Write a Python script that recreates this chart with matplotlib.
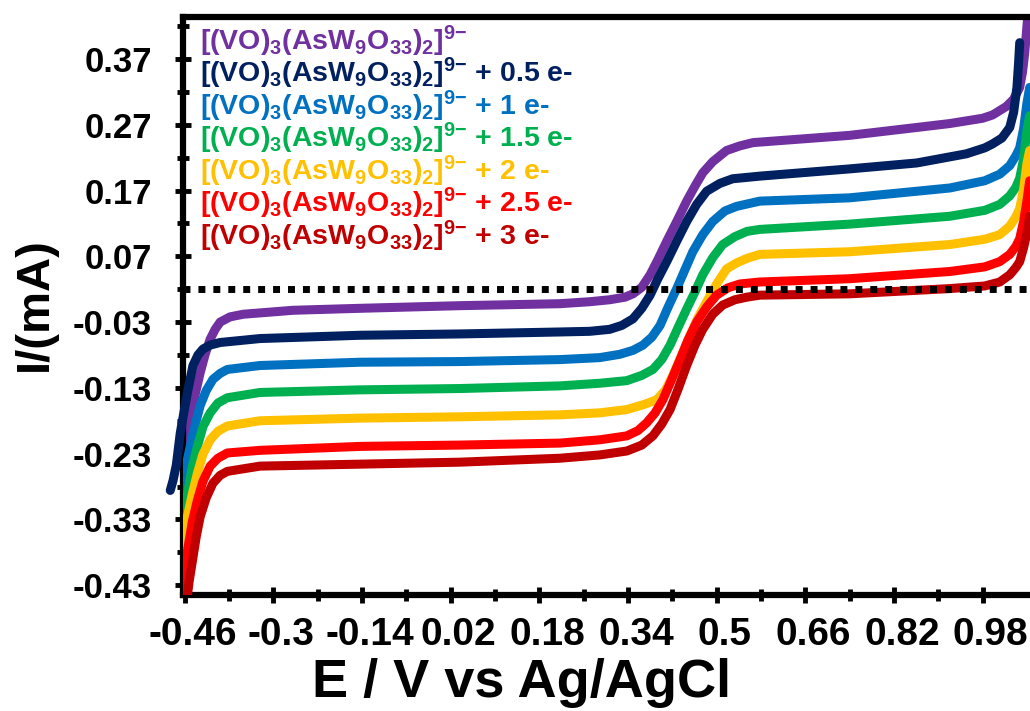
import matplotlib
matplotlib.use("Agg")
import matplotlib.pyplot as plt
from matplotlib import font_manager
from matplotlib.transforms import ScaledTranslation

# ---------------- data ----------------
E_purple = [-0.466, -0.457, -0.450, -0.441, -0.432, -0.423, -0.414, -0.405, -0.396, -0.378,
            -0.354, -0.264, -0.143, 0.037, 0.217, 0.271, 0.307, 0.335, 0.349, 0.365,
            0.380, 0.394, 0.410, 0.428, 0.446, 0.461, 0.475, 0.493, 0.518, 0.542,
            0.566, 0.740, 0.861, 0.921, 0.980, 0.998, 1.023, 1.036, 1.047, 1.052,
            1.056, 1.064]
I_purple = [-0.275, -0.214, -0.179, -0.140, -0.107, -0.079, -0.056, -0.041, -0.030, -0.022,
            -0.018, -0.012, -0.009, -0.005, -0.002, 0.001, 0.004, 0.008, 0.013, 0.023,
            0.042, 0.065, 0.093, 0.123, 0.154, 0.177, 0.197, 0.214, 0.231, 0.238,
            0.243, 0.254, 0.266, 0.272, 0.280, 0.285, 0.298, 0.309, 0.327, 0.350,
            0.379, 0.460]

E_navy = [-0.486, -0.481, -0.475, -0.468, -0.455, -0.445, -0.436, -0.427, -0.414, -0.396,
          -0.360, -0.324, -0.143, 0.037, 0.217, 0.271, 0.307, 0.329, 0.349, 0.365,
          0.380, 0.394, 0.410, 0.428, 0.446, 0.464, 0.482, 0.506, 0.529, 0.578,
          0.740, 0.861, 0.951, 0.984, 0.998, 1.015, 1.029, 1.036, 1.042, 1.045,
          1.047]
I_navy = [-0.286, -0.271, -0.247, -0.199, -0.137, -0.096, -0.080, -0.071, -0.065, -0.061,
          -0.058, -0.055, -0.050, -0.048, -0.045, -0.044, -0.041, -0.035, -0.025, -0.009,
          0.011, 0.036, 0.062, 0.093, 0.123, 0.149, 0.169, 0.181, 0.188, 0.192,
          0.203, 0.212, 0.226, 0.235, 0.241, 0.250, 0.266, 0.289, 0.327, 0.365,
          0.395]

E_blue = [-0.466, -0.463, -0.457, -0.450, -0.441, -0.432, -0.421, -0.409, -0.396, -0.383,
          -0.324, -0.143, 0.037, 0.217, 0.289, 0.325, 0.349, 0.367, 0.383, 0.398,
          0.412, 0.428, 0.443, 0.457, 0.475, 0.493, 0.515, 0.536, 0.578, 0.740,
          0.921, 0.984, 1.011, 1.029, 1.040, 1.047, 1.054, 1.060, 1.065]
I_blue = [-0.398, -0.280, -0.247, -0.219, -0.186, -0.157, -0.134, -0.117, -0.108, -0.102,
          -0.096, -0.091, -0.090, -0.087, -0.084, -0.079, -0.073, -0.065, -0.053, -0.035,
          -0.008, 0.021, 0.050, 0.077, 0.103, 0.123, 0.139, 0.146, 0.154, 0.159,
          0.174, 0.185, 0.195, 0.208, 0.223, 0.235, 0.264, 0.303, 0.327]

E_green = [-0.466, -0.465, -0.455, -0.446, -0.437, -0.427, -0.414, -0.400, -0.383, -0.324,
           -0.143, 0.037, 0.217, 0.289, 0.338, 0.365, 0.385, 0.401, 0.416, 0.430,
           0.446, 0.461, 0.475, 0.493, 0.511, 0.533, 0.555, 0.578, 0.740, 0.921,
           0.984, 1.011, 1.029, 1.040, 1.047, 1.054, 1.060, 1.065]
I_green = [-0.413, -0.352, -0.291, -0.249, -0.219, -0.189, -0.168, -0.153, -0.145, -0.137,
           -0.133, -0.131, -0.127, -0.123, -0.119, -0.111, -0.102, -0.087, -0.065, -0.039,
           -0.010, 0.016, 0.042, 0.068, 0.088, 0.100, 0.108, 0.111, 0.119, 0.131,
           0.140, 0.149, 0.162, 0.175, 0.189, 0.218, 0.261, 0.284]

E_yellow = [-0.466, -0.463, -0.455, -0.446, -0.437, -0.427, -0.414, -0.400, -0.383, -0.324,
            -0.143, 0.037, 0.217, 0.289, 0.338, 0.370, 0.392, 0.408, 0.421, 0.436,
            0.452, 0.466, 0.482, 0.500, 0.518, 0.536, 0.555, 0.578, 0.740, 0.921,
            0.984, 1.011, 1.029, 1.040, 1.047, 1.054, 1.060, 1.065]
I_yellow = [-0.428, -0.367, -0.326, -0.291, -0.260, -0.231, -0.209, -0.196, -0.188, -0.180,
            -0.176, -0.174, -0.171, -0.168, -0.163, -0.155, -0.148, -0.133, -0.111, -0.082,
            -0.050, -0.024, 0.001, 0.028, 0.051, 0.060, 0.067, 0.073, 0.077, 0.088,
            0.096, 0.103, 0.116, 0.130, 0.143, 0.172, 0.211, 0.231]

E_red = [-0.465, -0.455, -0.446, -0.437, -0.427, -0.414, -0.400, -0.383, -0.324, -0.143,
         0.037, 0.217, 0.289, 0.338, 0.358, 0.374, 0.389, 0.403, 0.418, 0.434,
         0.448, 0.464, 0.482, 0.500, 0.520, 0.542, 0.578, 0.740, 0.921, 0.984,
         1.011, 1.029, 1.040, 1.047, 1.054, 1.060, 1.065]
I_red = [-0.444, -0.378, -0.333, -0.301, -0.272, -0.249, -0.237, -0.229, -0.225, -0.219,
         -0.217, -0.214, -0.209, -0.203, -0.195, -0.183, -0.168, -0.148, -0.119, -0.087,
         -0.058, -0.030, -0.007, 0.011, 0.022, 0.028, 0.031, 0.036, 0.047, 0.054,
         0.062, 0.073, 0.085, 0.097, 0.123, 0.154, 0.185]

E_darkred = [-0.457, -0.452, -0.446, -0.439, -0.432, -0.421, -0.409, -0.396, -0.383, -0.324,
             -0.143, 0.037, 0.217, 0.289, 0.338, 0.365, 0.385, 0.401, 0.416, 0.430,
             0.446, 0.461, 0.475, 0.493, 0.511, 0.533, 0.555, 0.578, 0.740, 0.921,
             0.984, 1.011, 1.029, 1.040, 1.047, 1.054, 1.062, 1.065]
I_darkred = [-0.459, -0.425, -0.393, -0.356, -0.326, -0.297, -0.275, -0.263, -0.257, -0.249,
             -0.246, -0.243, -0.237, -0.232, -0.226, -0.217, -0.203, -0.185, -0.163, -0.133,
             -0.096, -0.065, -0.041, -0.018, -0.004, 0.004, 0.008, 0.011, 0.013, 0.021,
             0.025, 0.031, 0.042, 0.053, 0.062, 0.083, 0.113, 0.131]

series_E = [E_purple, E_navy, E_blue, E_green, E_yellow, E_red, E_darkred]
series_I = [I_purple, I_navy, I_blue, I_green, I_yellow, I_red, I_darkred]
series_colors = ["#7030A0", "#002060", "#0070C0", "#00B050", "#FFC000", "#FF0000", "#C00000"]

BASE = r"[(VO)$_3$(AsW$_9$O$_{33}$)$_2$]$^{9{-}}$"
series_suffix = ["", " + 0.5 e-", " + 1 e-", " + 1.5 e-", " + 2 e-", " + 2.5 e-", " + 3 e-"]

REF_LINE = 0.02

x_ticks = [-0.46, -0.30, -0.14, 0.02, 0.18, 0.34, 0.50, 0.66, 0.82, 0.98]
x_tick_labels = ["-0.46", "-0.3", "-0.14", "0.02", "0.18", "0.34", "0.5", "0.66", "0.82", "0.98"]
x_minor = [-0.38, -0.22, -0.06, 0.10, 0.26, 0.42, 0.58, 0.74, 0.90]
y_ticks = [-0.43, -0.33, -0.23, -0.13, -0.03, 0.07, 0.17, 0.27, 0.37]
y_tick_labels = ["-0.43", "-0.33", "-0.23", "-0.13", "-0.03", "0.07", "0.17", "0.27", "0.37"]
y_minor = [-0.38, -0.28, -0.18, -0.08, 0.02, 0.12, 0.22, 0.32, 0.42]

X_LABEL = "E / V vs Ag/AgCl"
Y_LABEL = "I/(mA)"

# ---------------- fonts ----------------
names = {f.name for f in font_manager.fontManager.ttflist}
NARROW = "Liberation Sans Narrow" if "Liberation Sans Narrow" in names else "Liberation Sans"
SANS = "Liberation Sans"
plt.rcParams.update({
    "font.family": [SANS, "DejaVu Sans"],
    "font.weight": "bold",
    "mathtext.fontset": "custom",
    "mathtext.rm": "Liberation Sans:bold",
    "mathtext.it": "Liberation Sans:bold",
    "mathtext.bf": "Liberation Sans:bold",
    "mathtext.sf": "Liberation Sans:bold",
    "mathtext.default": "bf",
})

W, H = 1030, 711
fig = plt.figure(figsize=(W / 100, H / 100), dpi=100)
ax = fig.add_axes([183 / W, 1 - 595 / H, (1038 - 183) / W, (595 - 17) / H])
ax.set_xlim(-0.463, 1.08)
ax.set_ylim(-0.445, 0.434)

for i, (E, I, c) in enumerate(zip(series_E, series_I, series_colors)):
    ax.plot(E, I, color=c, lw=6.5, solid_capstyle="round", solid_joinstyle="round",
            zorder=2 + i, clip_on=(i != 1))

ax.axhline(REF_LINE, color="black", lw=5, dashes=(1, 1.15), dash_capstyle="butt", zorder=20)

for s in ["left", "bottom", "top"]:
    ax.spines[s].set_linewidth(4.5)
ax.spines["right"].set_visible(False)

ax.set_xticks(x_ticks)
ax.set_xticklabels(x_tick_labels, fontfamily=NARROW, fontweight="bold", fontsize=28)
ax.set_xticks(x_minor, minor=True)
ax.set_yticks(y_ticks)
ax.set_yticklabels(y_tick_labels, fontfamily=SANS, fontweight="bold", fontsize=25)
ax.set_yticks(y_minor, minor=True)
ax.tick_params(which="major", direction="inout", length=11, width=3.5, top=False, right=False)
ax.tick_params(which="minor", direction="inout", length=8, width=3.5, top=False, right=False)
ax.tick_params(axis="x", which="major", pad=10)
ax.tick_params(axis="y", which="major", pad=17)
for lbl in ax.get_xticklabels():
    lbl.set_transform(lbl.get_transform() + ScaledTranslation(8 / 100, 0, fig.dpi_scale_trans))

for i, (suf, c) in enumerate(zip(series_suffix, series_colors)):
    fig.text(200 / W, 1 - (50 + 32.5 * i) / H, BASE + suf, color=c, fontsize=20.5,
             fontweight="bold", family=SANS, ha="left", va="baseline")

fig.text(522 / W, 1 - 683 / H, X_LABEL, fontfamily=NARROW, fontweight="bold", fontsize=39,
         ha="center", va="center")
fig.text(35 / W, 1 - 304 / H, Y_LABEL, fontfamily=SANS, fontweight="bold", fontsize=34,
         rotation=90, ha="center", va="center")

fig.savefig("out.png", dpi=100)
